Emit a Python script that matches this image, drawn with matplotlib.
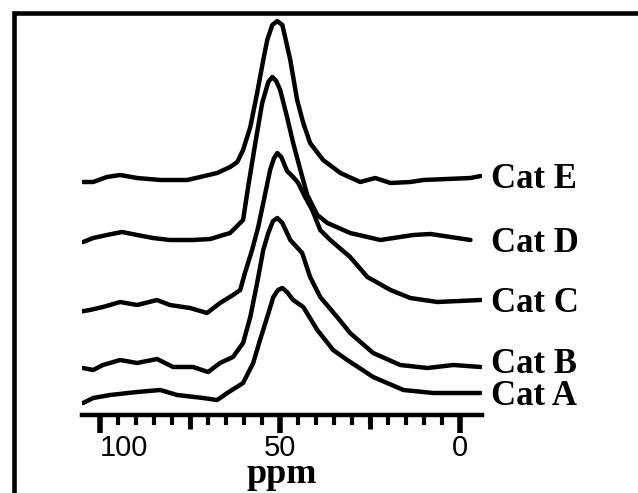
import numpy as np
import matplotlib
matplotlib.use("Agg")
import matplotlib.pyplot as plt
from matplotlib.patches import Rectangle

# Spectra: chemical shift (ppm) and stacked intensity (a.u.)
ppm_a = [104.7, 101.9, 97.2, 89.7, 83.3, 78.6, 71.4, 67.5, 64.7, 60.3, 57.5, 55.6,
         53.6, 51.9, 50.6, 49.4, 48.1, 46.4, 43.6, 39.7, 35.3, 31.4, 24.2, 15.8, 7.5, -5.6]
int_a = [10, 15, 18, 21, 23, 18, 15, 13, 20, 30, 50, 73,
         96, 116, 123, 125, 121, 113, 106, 83, 63, 53, 36, 23, 20, 20]

ppm_b = [104.7, 101.9, 99.2, 94.4, 89.7, 84.2, 79.7, 74.2, 70.0, 66.7, 63.1, 60.3, 58.3, 56.4,
         54.7, 53.3, 52.0, 50.8, 49.4, 47.2, 43.9, 41.7, 38.9, 34.2, 30.6, 24.2, 16.7, 9.2, 1.9, -5.6]
int_b = [45, 43, 48, 53, 50, 54, 46, 46, 41, 50, 56, 70, 96, 130,
         163, 180, 192, 195, 190, 173, 160, 136, 116, 96, 80, 60, 48, 45, 48, 46]

ppm_c = [106.1, 102.8, 99.2, 94.4, 89.7, 84.2, 80.6, 75.0, 70.3, 66.7, 63.1, 61.1, 59.7, 57.8, 56.1,
         54.7, 52.8, 51.7, 50.8, 49.7, 48.1, 46.4, 45.0, 43.1, 41.1, 38.9, 36.1, 30.6, 25.8, 19.4,
         13.9, 6.4, -5.6]
int_c = [101, 103, 106, 111, 108, 113, 108, 105, 100, 110, 118, 123, 141, 163, 186,
         210, 243, 255, 260, 256, 242, 236, 230, 216, 203, 183, 173, 156, 136, 123,
         115, 111, 113]

ppm_d = [104.7, 101.9, 98.1, 93.9, 89.7, 85.3, 80.6, 74.2, 69.4, 65.8, 63.9, 60.3, 58.9, 56.9,
         55.0, 53.3, 52.2, 51.1, 50.0, 48.1, 46.4, 44.4, 42.5, 39.7, 36.9, 30.6, 22.2, 13.1, 8.3, -2.8]
int_d = [171, 175, 178, 181, 178, 175, 173, 173, 174, 178, 180, 193, 226, 270,
         310, 331, 336, 332, 323, 296, 270, 243, 218, 198, 190, 180, 173, 178, 179, 173]

ppm_e = [104.7, 101.9, 98.1, 94.4, 89.7, 83.3, 75.8, 72.2, 67.5, 63.9, 61.9, 60.3, 58.3, 56.4,
         54.7, 53.6, 52.2, 50.8, 49.4, 47.2, 45.3, 43.6, 41.7, 38.1, 33.3, 27.8, 23.6, 19.4, 13.9,
         10.3, -2.8, -5.6]
int_e = [231, 231, 236, 238, 235, 233, 233, 236, 240, 246, 251, 263, 286, 320,
         353, 373, 388, 392, 388, 353, 313, 290, 270, 253, 240, 231, 235, 230, 231,
         233, 235, 237]

names = ["Cat A", "Cat B", "Cat C", "Cat D", "Cat E"]
label_y = [8, 40, 101, 161, 225]

fig = plt.figure(figsize=(6.38, 4.93), dpi=100)
ax = fig.add_axes([82 / 638, 78 / 493, 400 / 638, 402 / 493])

for x, y in [(ppm_a, int_a), (ppm_b, int_b), (ppm_c, int_c), (ppm_d, int_d), (ppm_e, int_e)]:
    ax.plot(x, y, color="black", lw=3.2, solid_joinstyle="round", solid_capstyle="round")

ax.set_xlim(105, -6)
ax.set_ylim(-2, 400)

for s in ["left", "right", "top"]:
    ax.spines[s].set_visible(False)
ax.spines["bottom"].set_linewidth(3.2)
ax.set_yticks([])

ax.set_xticks([0, 50, 100])
ax.set_xticklabels(["0", "50", "100"], fontfamily="Liberation Sans", fontsize=21)
ax.set_xticks(np.arange(0, 101, 5), minor=True)
ax.tick_params(axis="x", which="major", direction="out", length=13, width=4, pad=1)
ax.tick_params(axis="x", which="minor", direction="out", length=7, width=3)
for lab in ax.get_xticklabels():
    if lab.get_text() == "100":
        lab.set_horizontalalignment("left")
        lab.set_x(97)

# medium ticks at 25 and 75
sec = ax.secondary_xaxis("bottom")
sec.set_xticks([25, 75])
sec.tick_params(axis="x", which="major", direction="out", length=10, width=3.5, labelbottom=False)
sec.spines["bottom"].set_visible(False)

ax.set_xlabel("ppm", fontfamily="Liberation Serif", fontweight="bold", fontsize=26, labelpad=-3)

for name, yl in zip(names, label_y):
    ax.text(-8.5, yl, name, fontfamily="Liberation Serif", fontweight="bold", fontsize=25,
            ha="left", va="baseline", clip_on=False)

# frame around the figure
fig.add_artist(Rectangle((14 / 638, -0.1), 1.2, (493 - 13) / 493 + 0.1,
                         transform=fig.transFigure, fill=False, lw=3.3, edgecolor="black"))

fig.savefig("out.png", dpi=100)
